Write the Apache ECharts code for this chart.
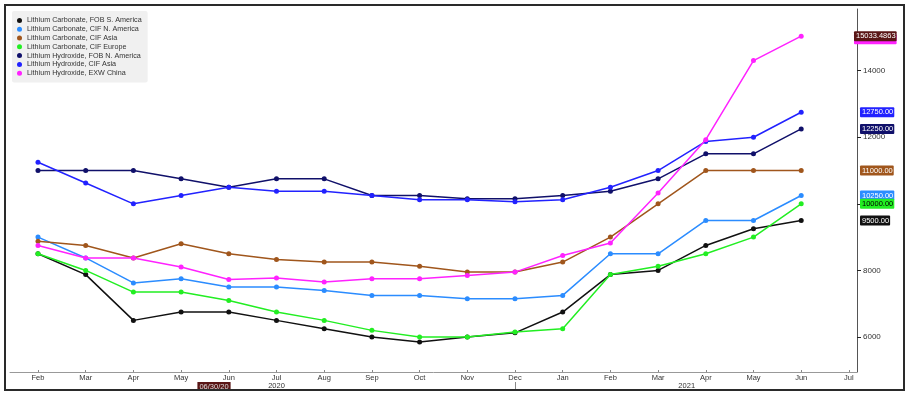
<!DOCTYPE html>
<html>
<head>
<meta charset="utf-8">
<script src="https://cdn.jsdelivr.net/npm/echarts@6/dist/echarts.min.js"></script>
<style>
html,body{margin:0;padding:0;background:#fff;}
#main{width:909px;height:395px;}
</style>
</head>
<body>
<div id="main"></div>
<script>
// ---- data ----
var monthLabels = ['Feb','Mar','Apr','May','Jun','Jul','Aug','Sep','Oct','Nov','Dec','Jan','Feb','Mar','Apr','May','Jun','Jul'];
var seriesNames = [
  'Lithium Carbonate, FOB S. America',
  'Lithium Carbonate, CIF N. America',
  'Lithium Carbonate, CIF Asia',
  'Lithium Carbonate, CIF Europe',
  'Lithium Hydroxide, FOB N. America',
  'Lithium Hydroxide, CIF Asia',
  'Lithium Hydroxide, EXW China'
];
var carbFobSA    = [8500, 7875, 6500, 6750, 6750, 6500, 6250, 6000, 5850, 6000, 6125, 6750, 7875, 8000, 8750, 9250, 9500];
var carbCifNA    = [9000, 8375, 7625, 7750, 7500, 7500, 7400, 7250, 7250, 7150, 7150, 7250, 8500, 8500, 9500, 9500, 10250];
var carbCifAsia  = [8875, 8750, 8375, 8800, 8500, 8325, 8250, 8250, 8125, 7950, 7950, 8250, 9000, 10000, 11000, 11000, 11000];
var carbCifEur   = [8500, 8000, 7350, 7350, 7100, 6750, 6500, 6200, 6000, 6000, 6150, 6250, 7875, 8125, 8500, 9000, 10000];
var hydFobNA     = [11000, 11000, 11000, 10750, 10500, 10750, 10750, 10250, 10250, 10150, 10150, 10250, 10375, 10750, 11500, 11500, 12250];
var hydCifAsia   = [11250, 10625, 10000, 10250, 10500, 10375, 10375, 10250, 10125, 10125, 10060, 10125, 10500, 11000, 11875, 12000, 12750];
var hydExwChina  = [8750, 8375, 8375, 8100, 7725, 7775, 7650, 7750, 7750, 7850, 7950, 8450, 8825, 10325, 11925, 14300, 15033.4863];
var yTickLabels  = [6000, 8000, 12000, 14000];
var yTickValues  = [6000, 8000, 10000, 12000, 14000];
var lowerLabels  = ['06/30/20', '2020', '2021'];
var lowerLabelPos = [3.69, 5.0, 13.6];
var yearSepPos   = [10];

// ---- styles ----
var colors = ['#111111', '#2b8cff', '#a0561c', '#22ee22', '#10106a', '#2222ff', '#ff22ff'];
var tagText = ['#fff', '#fff', '#fff', '#000', '#fff', '#fff', '#fff'];
var allData = [carbFobSA, carbCifNA, carbCifAsia, carbCifEur, hydFobNA, hydCifAsia, hydExwChina];
var FONT = 'Liberation Sans';

function toPairs(arr){ return arr.map(function(v,i){ return [i, v]; }); }
function fmtTag(v){ return Number.isInteger(v) ? v.toFixed(2) : String(v); }

var series = allData.map(function(arr, k){
  var last = arr[arr.length-1];
  var isPink = k === 6;
  return {
    name: seriesNames[k],
    type: 'line',
    xAxisIndex: 0,
    yAxisIndex: 0,
    data: toPairs(arr),
    color: colors[k],
    symbol: 'circle',
    symbolSize: 5,
    lineStyle: { width: 1.5, color: colors[k] },
    itemStyle: { color: colors[k] },
    z: 2 + k,
    markLine: {
      silent: true,
      symbol: ['none', 'none'],
      lineStyle: { color: 'rgba(0,0,0,0)', width: 1, type: 'solid' },
      emphasis: { disabled: true },
      data: [{ yAxis: last }],
      label: {
        show: true,
        position: 'end',
        distance: isPink ? -3 : 3,
        formatter: function(){ return fmtTag(last); },
        fontFamily: FONT,
        fontSize: 7.5,
        color: isPink ? '#fff' : tagText[k],
        backgroundColor: isPink ? '#5a1616' : colors[k],
        padding: [1, 1, 1, 2],
        borderRadius: 1,
        shadowColor: isPink ? '#ff22ff' : 'rgba(0,0,0,0)',
        shadowOffsetY: isPink ? 3 : 0,
        shadowBlur: 0
      }
    }
  };
});

var chart = echarts.init(document.getElementById('main'), null, { renderer: 'canvas' });
chart.setOption({
  backgroundColor: '#fff',
  animation: false,
  textStyle: { fontFamily: FONT },
  grid: { left: 10, right: 52, top: 9, bottom: 23, containLabel: false },
  legend: {
    orient: 'vertical',
    left: 12, top: 11,
    data: seriesNames,
    icon: 'circle',
    itemWidth: 5, itemHeight: 5,
    itemGap: 0,
    padding: [5, 6, 5, 5],
    backgroundColor: '#f0f0f0',
    borderRadius: 2,
    textStyle: { fontFamily: FONT, fontSize: 7.2, lineHeight: 8.8, color: '#333' }
  },
  xAxis: [{
    type: 'value',
    min: -0.587, max: 17.17,
    position: 'bottom',
    splitLine: { show: false },
    axisLine: { show: true, onZero: false, lineStyle: { color: '#999', width: 1 } },
    axisTick: { show: true, inside: true, length: 2, customValues: monthLabels.map(function(_, i){ return i; }), lineStyle: { color: '#888' } },
    axisLabel: {
      customValues: monthLabels.map(function(_, i){ return i; }),
      formatter: function(v){ return monthLabels[Math.round(v)]; },
      fontFamily: FONT, fontSize: 7.5, color: '#333', margin: 2
    }
  }, {
    type: 'value',
    min: -0.587, max: 17.17,
    position: 'bottom',
    offset: 10,
    splitLine: { show: false },
    axisLine: { show: false, onZero: false },
    axisTick: { show: true, length: 8, customValues: yearSepPos, lineStyle: { color: '#888' } },
    axisLabel: {
      customValues: lowerLabelPos,
      formatter: function(v){
        var i = lowerLabelPos.indexOf(v);
        if (i === 0) return '{d|' + lowerLabels[0] + '}';
        return lowerLabels[i];
      },
      fontFamily: FONT, fontSize: 7.5, color: '#333', margin: 0,
      rich: { d: { backgroundColor: '#5a1616', color: '#ddd', fontFamily: FONT, fontSize: 7.5, padding: [1, 2, 0, 2] } }
    }
  }],
  yAxis: {
    type: 'value',
    position: 'right',
    min: 4950, max: 15850,
    splitLine: { show: false },
    axisLine: { show: true, onZero: false, lineStyle: { color: '#555', width: 1 } },
    axisTick: { show: true, length: 4, customValues: yTickValues, lineStyle: { color: '#222' } },
    axisLabel: {
      customValues: yTickLabels,
      formatter: function(v){ return String(v); },
      fontFamily: FONT, fontSize: 8, color: '#333', margin: 6
    }
  },
  graphic: [{
    type: 'rect',
    shape: { x: 5, y: 5, width: 899, height: 385 },
    style: { fill: null, stroke: '#2a2a2a', lineWidth: 2 },
    silent: true, z: 100
  }],
  series: series
});
</script>
</body>
</html>
